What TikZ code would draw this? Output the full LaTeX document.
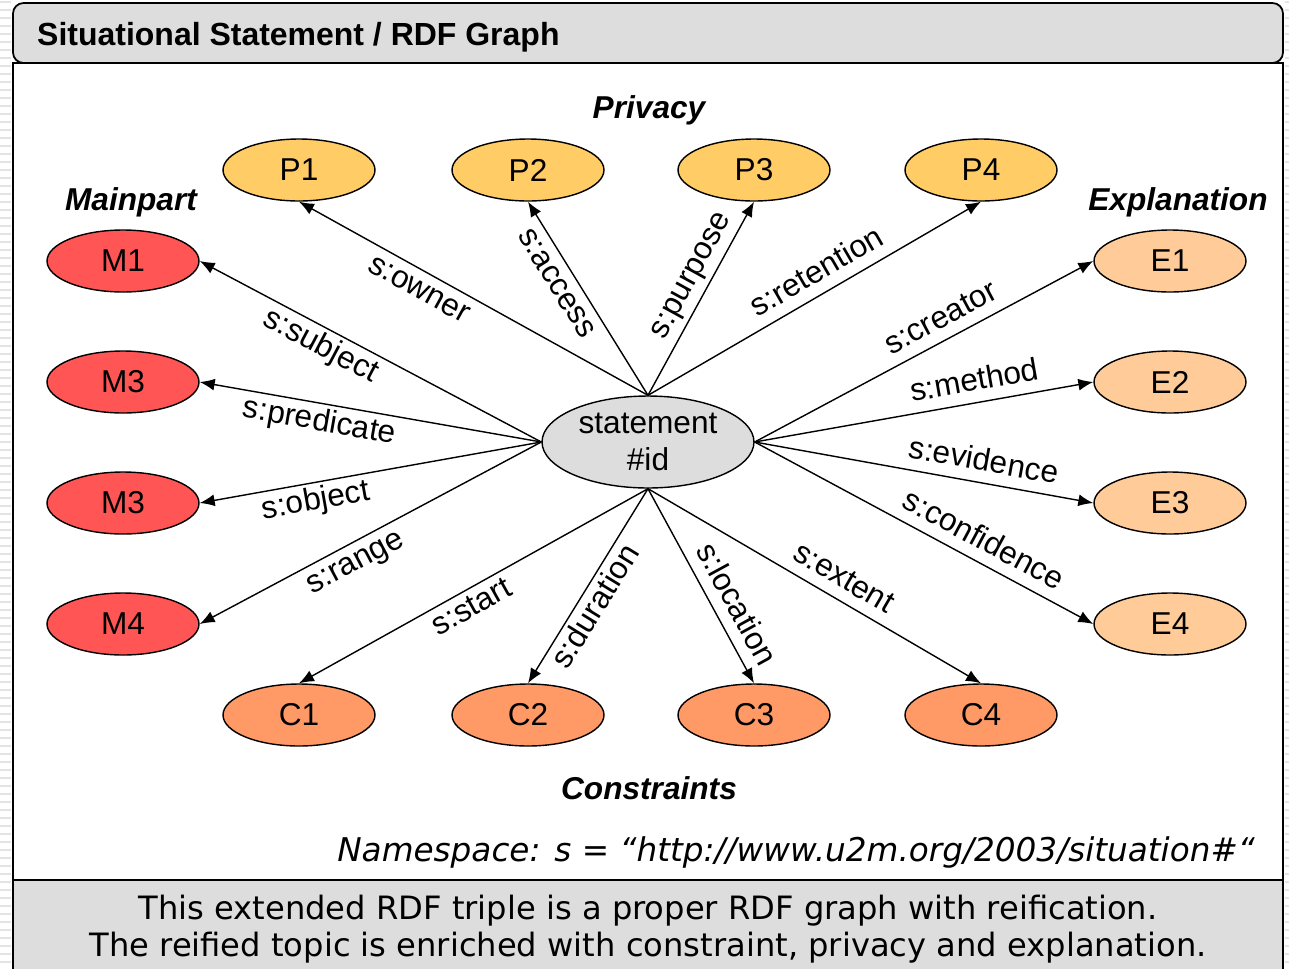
\documentclass[tikz,border=0pt]{standalone}
\usepackage{fontspec}
\setmainfont{Liberation Sans}
\newfontfamily\vfont{DejaVu Sans}
\usepackage{xcolor}
\usetikzlibrary{arrows.meta,shapes.geometric}

\definecolor{barGray}{HTML}{DDDDDD}
\definecolor{privCol}{HTML}{FFCC66}
\definecolor{mainCol}{HTML}{FF5555}
\definecolor{explCol}{HTML}{FFCC99}
\definecolor{consCol}{HTML}{FF9966}

\begin{document}
\begin{tikzpicture}[x=0.02cm,y=-0.02cm,>={Latex[length=3mm,width=2.4mm]},
    big/.style={font=\fontsize{18}{21}\selectfont},
    part/.style={ellipse,draw=black,line width=0.8pt,minimum width=3.04cm,minimum height=1.24cm,inner sep=0pt,big},
    rel/.style={->,line width=0.8pt},
    lbl/.style={inner sep=3pt,text height=12pt,text depth=3.5pt,big},
    head/.style={font=\fontsize{18}{21}\selectfont\bfseries\itshape}]
    \useasboundingbox (0,0) rectangle (1289,968);
    % striped page edge
    \foreach \yy in {2,10,...,968} {
      \draw[gray!22,line width=1.6pt] (0,\yy) -- (11,\yy);
      \draw[gray!22,line width=1.6pt] (1285,\yy) -- (1289,\yy);
    }
    % frame
    \filldraw[fill=white,draw=black,line width=1pt] (13,63) rectangle (1283,880);
    \filldraw[fill=barGray,draw=black,line width=1pt] (13,880) rectangle (1283,975);
    \filldraw[fill=barGray,draw=black,line width=1pt,rounded corners=6pt] (13,3) rectangle (1283,63);
    \node[anchor=base west,font=\fontsize{18.2}{21}\selectfont\bfseries] (title) at (31,45) {Situational Statement / RDF Graph};

    % centre
    \node[ellipse,draw=black,line width=0.8pt,fill=barGray,minimum width=4.24cm,minimum height=1.84cm,inner sep=0pt,align=center,big] (c) at (648,442) {statement\\\#id};

    % privacy
    \node[part,fill=privCol] (p1) at (299,170) {P1};
    \node[part,fill=privCol] (p2) at (528,170) {P2};
    \node[part,fill=privCol] (p3) at (754,170) {P3};
    \node[part,fill=privCol] (p4) at (981,170) {P4};
    % main part
    \node[part,fill=mainCol] (m1) at (123,261) {M1};
    \node[part,fill=mainCol] (m2) at (123,382) {M3};
    \node[part,fill=mainCol] (m3) at (123,503) {M3};
    \node[part,fill=mainCol] (m4) at (123,624) {M4};
    % explanation
    \node[part,fill=explCol] (e1) at (1170,261) {E1};
    \node[part,fill=explCol] (e2) at (1170,382) {E2};
    \node[part,fill=explCol] (e3) at (1170,503) {E3};
    \node[part,fill=explCol] (e4) at (1170,624) {E4};
    % constraints
    \node[part,fill=consCol] (c1) at (299,715) {C1};
    \node[part,fill=consCol] (c2) at (528,715) {C2};
    \node[part,fill=consCol] (c3) at (754,715) {C3};
    \node[part,fill=consCol] (c4) at (981,715) {C4};

    \node[head,anchor=base] (privacy) at (649,118) {Privacy};
    \node[head,anchor=base] (mainpart) at (131,210) {Mainpart};
    \node[head,anchor=base] (expl) at (1178,210) {Explanation};
    \node[head,anchor=base] (cons) at (649,799) {Constraints};

    \draw[rel] (c.north) -- (p1.south) node[lbl,pos=0.63,sloped,below]{s:owner};
    \draw[rel] (c.north) -- (p2.south) node[lbl,pos=0.63,sloped,below]{s:access};
    \draw[rel] (c.north) -- (p3.south) node[lbl,pos=0.57,sloped,above]{s:purpose};
    \draw[rel] (c.north) -- (p4.south) node[lbl,pos=0.54,sloped,above]{s:retention};

    \draw[rel] (c.west) -- (m1.east) node[lbl,pos=0.62,sloped,below]{s:subject};
    \draw[rel] (c.west) -- (m2.east) node[lbl,pos=0.64,sloped,below]{s:predicate};
    \draw[rel] (c.west) -- (m3.east) node[lbl,pos=0.67,sloped,below]{s:object};
    \draw[rel] (c.west) -- (m4.east) node[lbl,pos=0.57,sloped,below]{s:range};

    \draw[rel] (c.east) -- (e1.west) node[lbl,pos=0.58,sloped,above]{s:creator};
    \draw[rel] (c.east) -- (e2.west) node[lbl,pos=0.66,sloped,above]{s:method};
    \draw[rel] (c.east) -- (e3.west) node[lbl,pos=0.665,sloped,above]{s:evidence};
    \draw[rel] (c.east) -- (e4.west) node[lbl,pos=0.645,sloped,above]{s:confidence};

    \draw[rel] (c.south) -- (c1.north) node[lbl,pos=0.53,sloped,below]{s:start};
    \draw[rel] (c.south) -- (c2.north) node[lbl,pos=0.56,sloped,below]{s:duration};
    \draw[rel] (c.south) -- (c3.north) node[lbl,pos=0.65,sloped,above]{s:location};
    \draw[rel] (c.south) -- (c4.north) node[lbl,pos=0.555,sloped,above]{s:extent};

    \node[anchor=base east,font=\fontsize{18.6}{21}\selectfont\vfont\itshape] (ns) at (1261,861) {Namespace: s = “http://www.u2m.org/2003/situation\#“};
    \node[anchor=base,align=center,font=\fontsize{18.3}{21}\selectfont\vfont] (note) at (648,956) {This extended RDF triple is a proper RDF graph with reification.\\The reified topic is enriched with constraint, privacy and explanation.};
\end{tikzpicture}
\end{document}
